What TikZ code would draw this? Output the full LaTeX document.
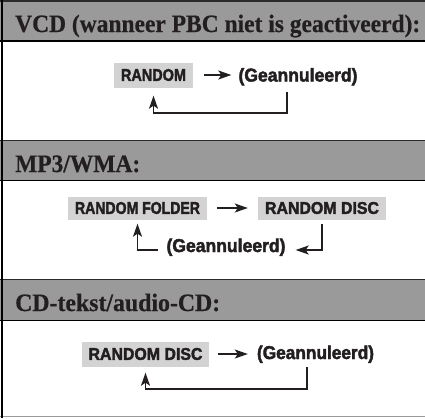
\documentclass[tikz,border=0pt]{standalone}
\usepackage{fontspec}
\setmainfont{Liberation Serif}[BoldFeatures={FakeBold=0.6}]
\setsansfont{Liberation Sans}[BoldFeatures={FakeBold=2.4}]
\usetikzlibrary{arrows.meta}
\definecolor{hdr}{HTML}{9A9A9A}
\definecolor{boxg}{HTML}{D3D3D4}
\definecolor{ink}{HTML}{231F20}
\definecolor{rulec}{HTML}{2A2A2A}
\definecolor{botc}{HTML}{9A9A9A}
\newcommand\fitto[2]{\resizebox{#1}{\height}{#2}}
\begin{document}
\begin{tikzpicture}[x=1pt,y=-1pt,
  hdrtext/.style={anchor=base west, inner sep=0pt, font=\fontsize{25}{25}\selectfont\bfseries, text=ink},
  boxlbl/.style={fill=boxg, inner sep=0pt, minimum height=25pt, font=\sffamily\bfseries\fontsize{17}{17}\selectfont, text=ink},
  cancel/.style={anchor=base, inner sep=0pt, font=\sffamily\bfseries\fontsize{18.6}{18.6}\selectfont, text=ink},
  flow/.style={line width=1.4pt, draw=ink, -{Stealth[length=13pt,width=9pt,inset=3pt]}},
  back/.style={line width=1.3pt, draw=ink, -{Stealth[length=13pt,width=9pt,inset=3pt]}},
]
\useasboundingbox (0,0) rectangle (425,418);
\fill[white] (0,0) rectangle (425,418);
% header bands
\fill[hdr] (0,0) rectangle (425,41);
\fill[hdr] (0,140) rectangle (425,180);
\fill[hdr] (0,279) rectangle (425,320);
\draw[rulec, line width=2pt] (0,1) -- (425,1);
\draw[black, line width=1.6pt] (0,41) -- (425,41);
\draw[rulec, line width=1.8pt] (0,140.5) -- (425,140.5);
\draw[black, line width=1.6pt] (0,180.5) -- (425,180.5);
\draw[rulec, line width=1.8pt] (0,279.5) -- (425,279.5);
\draw[black, line width=1.6pt] (0,320.5) -- (425,320.5);
% header texts
\node[hdrtext] (h1) at (15,32) {\fitto{405pt}{VCD (wanneer PBC niet is geactiveerd):}};
\node[hdrtext] (h2) at (15,172) {\fitto{125pt}{MP3/WMA:}};
\node[hdrtext] (h3) at (15,311) {\fitto{205pt}{CD-tekst/audio-CD:}};
% section 1
\node[boxlbl, minimum width=79pt] (r1) at (153.5,75) {\fitto{65pt}{RANDOM}};
\node[cancel] (g1) at (298,81.5) {\fitto{119pt}{(Geannuleerd)}};
\draw[flow, shorten <=11pt, shorten >=7pt] (r1.east) -- (g1.west |- r1.east);
\coordinate (k1) at (287,113);
\draw[back, shorten <=6pt, shorten >=8pt] (g1.south -| k1) -- (k1) -| (r1.south);
% section 2
\node[boxlbl, minimum width=139pt, minimum height=23pt] (rf) at (137.5,208) {\fitto{125pt}{RANDOM FOLDER}};
\node[boxlbl, minimum width=128pt, minimum height=23pt] (rd) at (322,208) {\fitto{114pt}{RANDOM DISC}};
\draw[flow, shorten <=10pt, shorten >=10pt] (rf.east) -- (rd.west);
\node[cancel] (g2) at (226,252) {\fitto{119pt}{(Geannuleerd)}};
\coordinate (y2) at (0,250);
\draw[back, shorten <=4pt, shorten >=10pt] (rd.south) -- (rd.south |- y2) -- (g2.east |- y2);
\draw[back, shorten <=8pt, shorten >=4pt] (g2.west |- y2) -- (rf.south |- y2) -- (rf.south);
% section 3
\node[boxlbl, minimum width=127pt] (rd3) at (145.5,354) {\fitto{114pt}{RANDOM DISC}};
\node[cancel] (g3) at (315.5,359) {\fitto{117pt}{(Geannuleerd)}};
\draw[flow, shorten <=9pt, shorten >=9pt] (rd3.east) -- (g3.west |- rd3.east);
\coordinate (k3) at (307,389);
\draw[back, shorten <=4pt, shorten >=6pt] (g3.south -| k3) -- (k3) -| (rd3.south);
% frame
\draw[botc, line width=1.5pt] (0,416.5) -- (425,416.5);
\draw[black, line width=2.5pt] (2,0) -- (2,418);
\end{tikzpicture}
\end{document}
